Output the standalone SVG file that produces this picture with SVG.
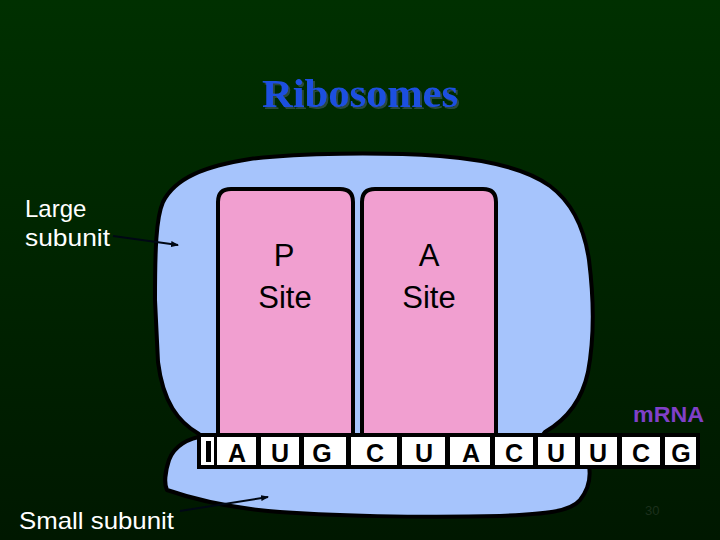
<svg xmlns="http://www.w3.org/2000/svg" width="720" height="540" viewBox="0 0 720 540">
<defs>
<linearGradient id="bg" x1="0" y1="0" x2="0" y2="1">
<stop offset="0" stop-color="#003000"/>
<stop offset="1" stop-color="#001800"/>
</linearGradient>
<filter id="shadow" x="-10%" y="-20%" width="120%" height="150%">
<feOffset in="SourceAlpha" dx="2" dy="2" result="off"/>
<feFlood flood-color="#2a4a40"/>
<feComposite in2="off" operator="in" result="sh"/>
<feMerge><feMergeNode in="sh"/><feMergeNode in="SourceGraphic"/></feMerge>
</filter>
<marker id="ah" markerWidth="8" markerHeight="6" refX="7" refY="3" orient="auto" markerUnits="userSpaceOnUse">
<path d="M0,0 L8,3 L0,6 Z" fill="#000814"/>
</marker>
<style>
.blob{fill:#a6c4fc;stroke:#000;stroke-width:4;stroke-linejoin:round}
.site{fill:#f19fd0;stroke:#000;stroke-width:4}
.lbl{font-family:"Liberation Sans",Arial,sans-serif;fill:#fff;font-size:24px}
.sitetxt{font-family:"Liberation Sans",Arial,sans-serif;fill:#000;font-size:31px;text-anchor:middle}
.cell{fill:#fff}
.base{font-family:"Liberation Sans",Arial,sans-serif;fill:#000;font-size:25px;font-weight:bold;text-anchor:middle}
.conn{stroke:#000814;stroke-width:2;fill:none}
</style>
</defs>
<rect width="720" height="540" fill="url(#bg)"/>
<g id="title">
<text x="360" y="107" font-family="'Liberation Serif','Times New Roman',serif" font-weight="bold" font-size="40" fill="#1f50e0" text-anchor="middle" textLength="196" lengthAdjust="spacingAndGlyphs" filter="url(#shadow)">Ribosomes</text>
</g>
<g id="small-subunit">
<path class="blob" d="M205,436 C188,438 174,446 169,460 C165,472 164,484 167,490 C190,498 228,507 268,511 C330,516 420,518 500,516 C545,514 570,512 580,500 C588,490 591,478 589,466 L560,452 L215,452 Z"/>
</g>
<g id="large-subunit">
<path class="blob" d="M155,300 C155,250 156,218 163,202 C175,178 205,166 250,159 C300,153 380,152 440,156 C490,160 528,170 550,186 C570,201 584,226 589,260 C594,300 594,340 588,372 C582,400 566,420 545,432 L530,452 L215,452 L199,434 C178,422 163,402 158,362 Z"/>
</g>
<g id="p-site">
<path class="site" d="M218,460 L218,202 Q218,189 231,189 L340,189 Q353,189 353,202 L353,460 Z"/>
<text class="sitetxt" x="284" y="266">P</text>
<text class="sitetxt" x="285" y="308">Site</text>
</g>
<g id="a-site">
<path class="site" d="M362,460 L362,202 Q362,189 375,189 L483,189 Q496,189 496,202 L496,460 Z"/>
<text class="sitetxt" x="429" y="266">A</text>
<text class="sitetxt" x="429" y="308">Site</text>
</g>
<g id="mrna">
<rect x="197" y="433" width="503" height="36" fill="#000"/>
<rect class="cell" x="201" y="437" width="13" height="28"/>
<rect x="206" y="441" width="5" height="21" fill="#000"/>
<rect class="cell" x="217" y="437" width="39" height="28"/>
<rect class="cell" x="261" y="437" width="38" height="28"/>
<rect class="cell" x="304" y="437" width="42" height="28"/>
<rect class="cell" x="351" y="437" width="46" height="28"/>
<rect class="cell" x="402" y="437" width="43" height="28"/>
<rect class="cell" x="450" y="437" width="40" height="28"/>
<rect class="cell" x="495" y="437" width="38" height="28"/>
<rect class="cell" x="538" y="437" width="37" height="28"/>
<rect class="cell" x="580" y="437" width="37" height="28"/>
<rect class="cell" x="622" y="437" width="38" height="28"/>
<rect class="cell" x="665" y="437" width="31" height="28"/>
<text class="base" x="237" y="462">A</text>
<text class="base" x="280" y="462">U</text>
<text class="base" x="322" y="462">G</text>
<text class="base" x="375" y="462">C</text>
<text class="base" x="424" y="462">U</text>
<text class="base" x="471" y="462">A</text>
<text class="base" x="514" y="462">C</text>
<text class="base" x="556" y="462">U</text>
<text class="base" x="598" y="462">U</text>
<text class="base" x="641" y="462">C</text>
<text class="base" x="681" y="462">G</text>
<text x="633" y="422" font-family="'Liberation Sans',Arial,sans-serif" font-weight="bold" font-size="22" fill="#8040c8" textLength="71" lengthAdjust="spacingAndGlyphs">mRNA</text>
</g>
<g id="labels">
<text class="lbl" x="25" y="217">Large</text>
<text class="lbl" x="25" y="246" textLength="85" lengthAdjust="spacingAndGlyphs">subunit</text>
<text class="lbl" x="19" y="529" textLength="155" lengthAdjust="spacingAndGlyphs">Small subunit</text>
<text x="645" y="515" font-family="'Liberation Sans',Arial,sans-serif" font-size="13" fill="#1c301c">30</text>
</g>
<g id="connectors">
<line class="conn" x1="113" y1="236" x2="178" y2="245" marker-end="url(#ah)"/>
<line class="conn" x1="180" y1="511" x2="268" y2="497" marker-end="url(#ah)"/>
</g>
</svg>
